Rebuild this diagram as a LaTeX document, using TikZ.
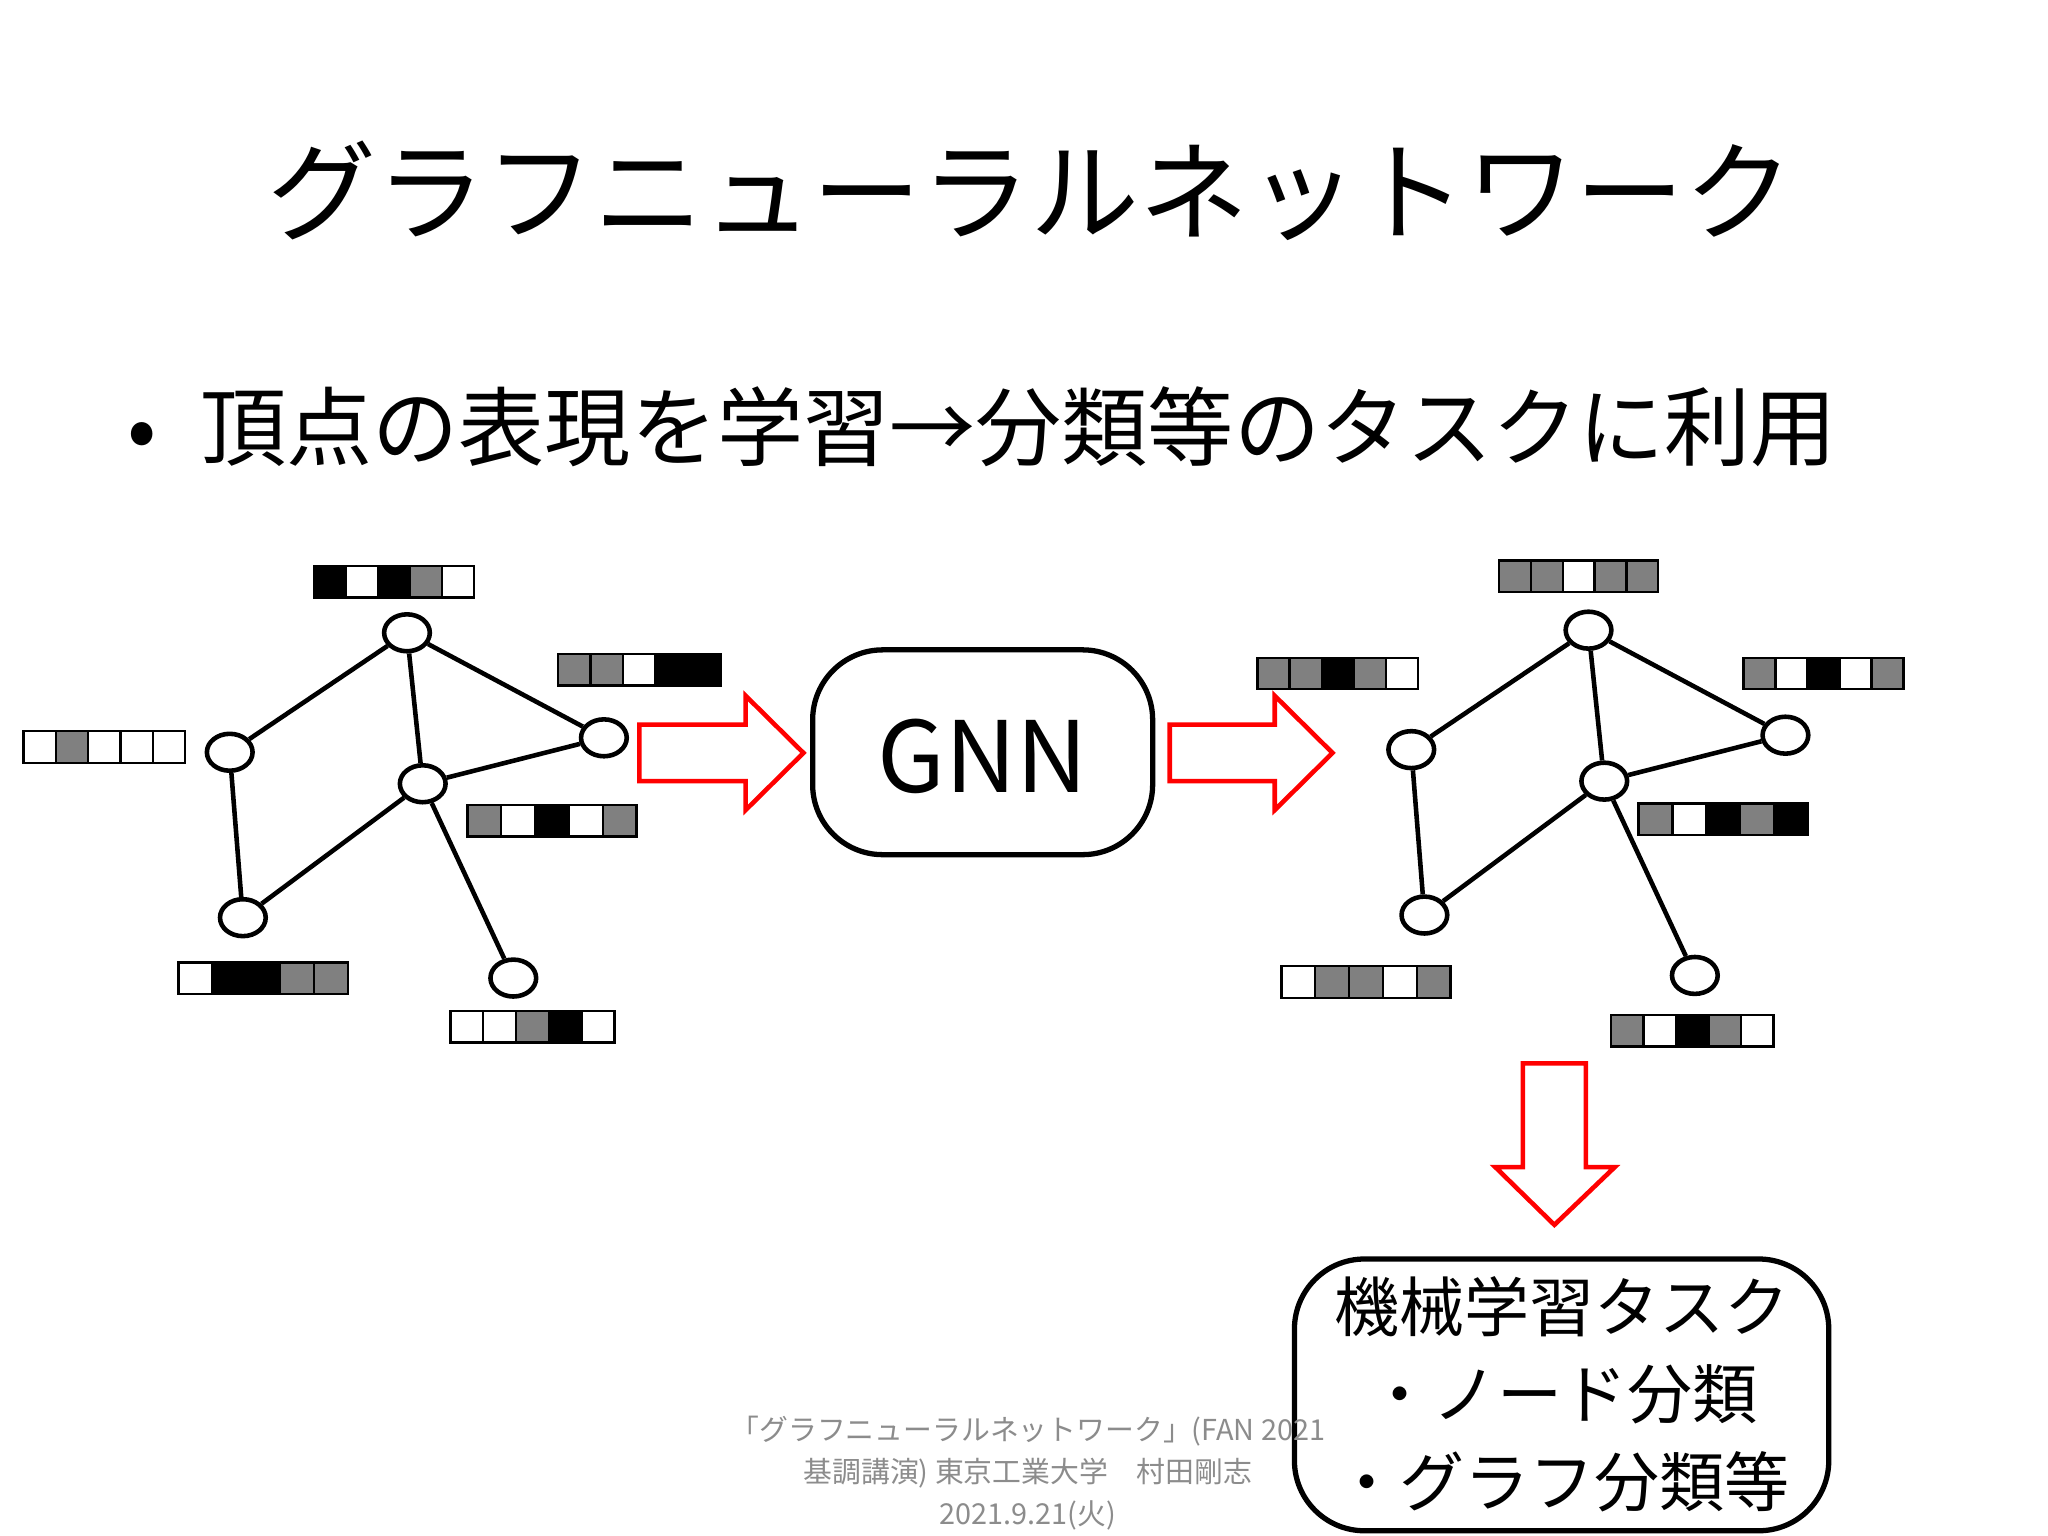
\documentclass[tikz,border=0pt]{standalone}
\usepackage{fontspec}
\setmainfont{Noto Sans CJK JP}
\usetikzlibrary{shapes.geometric,calc}
\begin{document}
\begin{tikzpicture}[x=0.013128cm,y=-0.013128cm,
  vn/.style={draw,line width=1.3pt,ellipse,minimum width=13pt,minimum height=10.5pt,inner sep=0pt,fill=white},
  ed/.style={line width=1.3pt},
  cell/.style={draw,line width=0.7pt},
  red arrow/.style={draw=red,line width=1.3pt,fill=white},
  rbox/.style={draw,line width=1.5pt,rounded corners=7mm}]
\useasboundingbox (0,0) rectangle (1560,1170);
\fill[white] (0,0) rectangle (1560,1170);
\newcommand{\fvec}[4]{%
  \foreach \c [count=\i from 0] in {#4} {
    \filldraw[cell,fill=\c] ({#1+\i*#3},#2) rectangle ({#1+(\i+1)*#3},#2+24);
  }}
\colorlet{G}{black!50}
\colorlet{K}{black}
\colorlet{W}{white}
\node[font=\fontsize{31}{36}\selectfont] (title) at (785,145) {グラフニューラルネットワーク};
\node[anchor=west,font=\fontsize{24.5}{30}\selectfont] (bul) at (88,325) {•\hspace{0.5em}頂点の表現を学習→分類等のタスクに利用};
% graphs
\coordinate (Ap) at (310,482); \coordinate (Bp) at (175,573); \coordinate (Cp) at (322,597);
\coordinate (Dp) at (460,562); \coordinate (Ep) at (185,699); \coordinate (Fp) at (391,745);
\foreach \n in {A,B,C,D,E,F} {\node[vn] (L\n) at (\n p) {};}
\foreach \n in {A,B,C,D,E,F} {\node[vn] (R\n) at ($(\n p)+(900,-2)$) {};}
\foreach \s in {L,R} {
  \draw[ed] (\s A)--(\s B) (\s A)--(\s C) (\s A)--(\s D) (\s C)--(\s D) (\s B)--(\s E) (\s E)--(\s C) (\s C)--(\s F);
}
% vectors left
\fvec{239}{431}{24.4}{K,W,K,G,W}
\fvec{425}{498}{24.8}{G,G,W,K,K}
\fvec{18}{557}{24.6}{W,G,W,W,W}
\fvec{356}{613}{25.8}{G,W,K,W,G}
\fvec{136}{733}{25.8}{W,K,K,G,G}
\fvec{343}{770}{25}{W,W,G,K,W}
% vectors right
\fvec{1142}{427}{24.2}{G,G,W,G,G}
\fvec{958}{501}{24.4}{G,G,K,G,W}
\fvec{1328}{501}{24.4}{G,W,K,W,G}
\fvec{1248}{612}{25.8}{G,W,K,G,K}
\fvec{976}{736}{25.8}{W,G,G,W,G}
\fvec{1227}{773}{24.8}{G,W,K,G,W}
% GNN
\draw[rbox] (619,495) rectangle (878,651);
\node[font=\fontsize{28}{32}\selectfont] (gt) at (748.5,576) {GNN};
% arrows
\draw[red arrow] (487,552)--(568,552)--(568,530)--(612,573.5)--(568,617)--(568,595)--(487,595)--cycle;
\draw[red arrow] (891,552)--(971,552)--(971,530)--(1015,573.5)--(971,617)--(971,595)--(891,595)--cycle;
\draw[red arrow] (1160,810)--(1208,810)--(1208,889)--(1230,889)--(1184,933)--(1139,889)--(1160,889)--cycle;
% task box
\draw[rbox] (986,959) rectangle (1393,1166);
\node[font=\fontsize{18.5}{23}\selectfont,align=center] (task) at (1190,1062) {機械学習タスク\\[2pt]・ノード分類\\[2pt]・グラフ分類等};
% footer
\node[font=\fontsize{8.2}{12}\selectfont,text=black!45,align=center] (foot) at (783,1122) {「グラフニューラルネットワーク」(FAN 2021\\基調講演) 東京工業大学\hspace{1em}村田剛志\\2021.9.21(火)};
\end{tikzpicture}
\end{document}
